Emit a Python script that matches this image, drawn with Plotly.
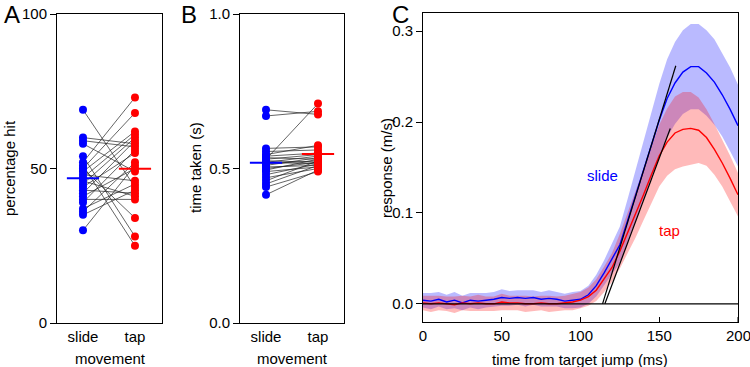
import plotly.graph_objects as go

W, H = 750, 367
FONT = "Liberation Sans, Arial, Helvetica, sans-serif"

# ---------------- Panel A: percentage hit ----------------
movement_labels = ["slide", "tap"]
hit_slide = [69, 60, 59, 58, 54, 52, 51, 50, 50, 49, 48, 47, 46, 45, 44, 43, 42, 41, 40, 39, 37, 36, 35, 30]
hit_tap   = [44, 58, 57, 49, 28, 73, 25, 68, 34, 62, 46, 61, 41, 60, 55, 42, 59, 50, 40, 56, 45, 52, 43, 51]

# ---------------- Panel B: time taken ----------------
time_slide = [0.69, 0.67, 0.565, 0.555, 0.545, 0.54, 0.535, 0.53, 0.525, 0.52, 0.52, 0.515,
              0.51, 0.505, 0.50, 0.495, 0.49, 0.48, 0.47, 0.46, 0.45, 0.44, 0.415, 0.53]
time_tap   = [0.675, 0.685, 0.57, 0.56, 0.575, 0.55, 0.53, 0.545, 0.52, 0.54, 0.515, 0.525,
              0.535, 0.51, 0.52, 0.53, 0.505, 0.515, 0.50, 0.525, 0.51, 0.49, 0.495, 0.71]

# ---------------- Panel C: response time course ----------------
t_ms = [0, 5, 10, 15, 20, 25, 30, 35, 40, 45, 50, 55, 60, 65, 70, 75, 80, 85, 90, 95, 100,
        105, 110, 115, 120, 125, 130, 135, 140, 145, 150, 155, 160, 165, 170, 175, 180, 185, 190, 195, 200]
resp_slide = [0.004, 0.003, 0.005, 0.002, 0.004, 0.001, 0.004, 0.003, 0.004, 0.005, 0.007, 0.006,
              0.007, 0.006, 0.007, 0.005, 0.006, 0.005, 0.003, 0.004, 0.005,
              0.010, 0.020, 0.034, 0.050, 0.065, 0.092, 0.120, 0.148, 0.175, 0.202, 0.226,
              0.243, 0.255, 0.261, 0.261, 0.254, 0.244, 0.230, 0.214, 0.196]
resp_tap = [0.001, 0.000, 0.001, 0.000, -0.001, 0.001, 0.000, 0.001, 0.000, 0.000, 0.002, 0.001,
            0.001, 0.000, 0.000, 0.001, 0.000, 0.000, 0.001, 0.002, 0.004,
            0.008, 0.015, 0.027, 0.040, 0.058, 0.078, 0.098, 0.120, 0.142, 0.163, 0.178,
            0.188, 0.192, 0.193, 0.191, 0.183, 0.170, 0.155, 0.138, 0.120]
sd_slide = [0.008, 0.009, 0.008, 0.008, 0.009, 0.008, 0.008, 0.009, 0.008, 0.008, 0.009, 0.008,
            0.008, 0.009, 0.008, 0.008, 0.009, 0.008, 0.008, 0.009, 0.009,
            0.010, 0.012, 0.014, 0.017, 0.020, 0.024, 0.028, 0.032, 0.036, 0.040, 0.043,
            0.045, 0.046, 0.047, 0.047, 0.047, 0.047, 0.046, 0.046, 0.045]
sd_tap = [0.008, 0.009, 0.008, 0.008, 0.009, 0.008, 0.008, 0.009, 0.008, 0.008, 0.009, 0.008,
          0.008, 0.009, 0.008, 0.008, 0.009, 0.008, 0.008, 0.009, 0.009,
          0.010, 0.012, 0.014, 0.016, 0.019, 0.022, 0.025, 0.028, 0.031, 0.034, 0.037,
          0.040, 0.041, 0.040, 0.036, 0.031, 0.028, 0.026, 0.025, 0.024]
# linear fits: onset time, end time, end value
fit_onset = [114.0, 115.5]
fit_end_t = [160.5, 157.0]
fit_end_v = [0.262, 0.193]
baseline_t = [0, 200]
baseline_v = [0.0, 0.0]
time_ticks = [0, 50, 100, 150, 200]

BLUE = "#0000ff"
RED = "#ff0000"

fig = go.Figure()

def paired_panel(xa, ya, s_vals, t_vals, half=0.31):
    lx, ly = [], []
    for a, b in zip(s_vals, t_vals):
        lx += [1, 2, None]
        ly += [a, b, None]
    fig.add_trace(go.Scatter(x=lx, y=ly, mode="lines", line=dict(color="#222", width=0.7),
                             xaxis=xa, yaxis=ya, hoverinfo="skip"))
    fig.add_trace(go.Scatter(x=[1] * len(s_vals), y=s_vals, mode="markers",
                             marker=dict(color=BLUE, size=8), xaxis=xa, yaxis=ya))
    fig.add_trace(go.Scatter(x=[2] * len(t_vals), y=t_vals, mode="markers",
                             marker=dict(color=RED, size=8), xaxis=xa, yaxis=ya))
    ms = sum(s_vals) / len(s_vals)
    mt = sum(t_vals) / len(t_vals)
    fig.add_trace(go.Scatter(x=[1 - half, 1 + half], y=[ms, ms], mode="lines",
                             line=dict(color=BLUE, width=2), xaxis=xa, yaxis=ya))
    fig.add_trace(go.Scatter(x=[2 - half, 2 + half], y=[mt, mt], mode="lines",
                             line=dict(color=RED, width=2), xaxis=xa, yaxis=ya))

paired_panel("x", "y", hit_slide, hit_tap)
paired_panel("x2", "y2", time_slide, time_tap)

# Panel C bands
for mean, sd, col in [(resp_slide, sd_slide, "rgba(0,0,255,0.27)"), (resp_tap, sd_tap, "rgba(255,0,0,0.27)")]:
    up = [m + s for m, s in zip(mean, sd)]
    lo = [m - s for m, s in zip(mean, sd)]
    fig.add_trace(go.Scatter(x=t_ms, y=up, mode="lines", line=dict(width=0, color=col),
                             xaxis="x3", yaxis="y3", hoverinfo="skip"))
    fig.add_trace(go.Scatter(x=t_ms, y=lo, mode="lines", line=dict(width=0, color=col),
                             fill="tonexty", fillcolor=col, xaxis="x3", yaxis="y3", hoverinfo="skip"))

fig.add_trace(go.Scatter(x=t_ms, y=resp_slide, mode="lines", line=dict(color=BLUE, width=1.4),
                         xaxis="x3", yaxis="y3"))
fig.add_trace(go.Scatter(x=t_ms, y=resp_tap, mode="lines", line=dict(color=RED, width=1.4),
                         xaxis="x3", yaxis="y3"))
fig.add_trace(go.Scatter(x=baseline_t, y=baseline_v, mode="lines", line=dict(color="black", width=1.2),
                         xaxis="x3", yaxis="y3"))
for t0, t1, v1 in zip(fit_onset, fit_end_t, fit_end_v):
    fig.add_trace(go.Scatter(x=[t0, t1], y=[0, v1], mode="lines", line=dict(color="black", width=1.2),
                             xaxis="x3", yaxis="y3"))

tickfont = dict(family=FONT, size=15, color="black")

def xax(domain, rng, **kw):
    d = dict(domain=domain, range=rng, showline=True, linecolor="black", linewidth=1, mirror=True,
             showgrid=False, zeroline=False, tickfont=tickfont, fixedrange=True, automargin=False,
             ticklabeloverflow="allow")
    d.update(kw)
    return d

def yax(domain, rng, tickvals, ticktext, anchor, **kw):
    d = dict(domain=domain, range=rng, showline=True, linecolor="black", linewidth=1, mirror=True,
             showgrid=False, zeroline=False, tickfont=tickfont, ticks="outside", ticklen=6,
             tickcolor="black", tickvals=tickvals, ticktext=ticktext, anchor=anchor, fixedrange=True,
             automargin=False)
    d.update(kw)
    return d

def yright(rng, tickvals, over, anchor):
    return dict(overlaying=over, side="right", anchor=anchor, range=rng, tickvals=tickvals,
                ticks="inside", ticklen=6, tickcolor="#555", showticklabels=False, showline=False,
                showgrid=False, zeroline=False, fixedrange=True, automargin=False)

ydom = [1 - 323 / H, 1 - 14 / H]
ydomC = [1 - 322 / H, 1 - 13 / H]

fig.update_layout(
    template="none",
    width=W, height=H, margin=dict(l=0, r=0, t=0, b=0, pad=0, autoexpand=False),
    paper_bgcolor="white", plot_bgcolor="white", showlegend=False,
    font=dict(family=FONT, size=15, color="black"),
    xaxis=xax([57 / W, 162 / W], [0.5, 2.52], tickvals=[1, 2], ticktext=movement_labels, ticks="", anchor="y"),
    yaxis=yax(ydom, [0, 100], [0, 50, 100], ["0", "50", "100"], "x"),
    yaxis4=yright([0, 100], [0, 50, 100], "y", "x"),
    xaxis2=xax([240 / W, 344 / W], [0.5, 2.5], tickvals=[1, 2], ticktext=movement_labels, ticks="", anchor="y2"),
    yaxis2=yax(ydom, [0, 1], [0, 0.5, 1.0], ["0.0", "0.5", "1.0"], "x2"),
    yaxis5=yright([0, 1], [0, 0.5, 1.0], "y2", "x2"),
    xaxis3=xax([423 / W, 738 / W], [0, 200], tickvals=time_ticks[:-1], ticks="inside", ticklen=5,
               tickcolor="black", anchor="y3"),
    yaxis3=yax(ydomC, [-0.02, 0.32], [0, 0.1, 0.2, 0.3], ["0.0", "0.1", "0.2", "0.3"], "x3"),
    yaxis6=yright([-0.02, 0.32], [0, 0.1, 0.2, 0.3], "y3", "x3"),
)

# last x tick of panel C (plotly drops labels overflowing the page; the reference shows it clipped)
fig.add_annotation(text=str(time_ticks[-1]), x=time_ticks[-1], y=1 - 335 / H, xref="x3", yref="paper",
                   showarrow=False, xanchor="center", yanchor="middle",
                   font=dict(family=FONT, size=15, color="black"))
fig.add_shape(type="line", xref="x3", yref="y3", x0=time_ticks[-1], x1=time_ticks[-1],
              y0=-0.02, y1=-0.0145, line=dict(color="black", width=1))

def ann(text, px, py, size=15, color="black", angle=0, xanchor="center"):
    fig.add_annotation(text=text, x=px / W, y=1 - py / H, xref="paper", yref="paper",
                       showarrow=False, textangle=angle, xanchor=xanchor, yanchor="middle",
                       font=dict(family=FONT, size=size, color=color))

ann("A", 12, 14, size=24)
ann("B", 189, 14, size=24)
ann("C", 401, 14, size=24)
ann("percentage hit", 9, 168, angle=-90)
ann("time taken (s)", 195, 168, angle=-90)
ann("response (m/s)", 386, 168, angle=-90)
ann("movement", 110, 358)
ann("movement", 292, 358)
ann("time from target jump (ms)", 580, 359)

# series labels in panel C (data coords)
fig.add_annotation(text="slide", x=114, y=0.141, xref="x3", yref="y3", showarrow=False,
                   font=dict(family=FONT, size=15, color=BLUE))
fig.add_annotation(text="tap", x=156.8, y=0.081, xref="x3", yref="y3", showarrow=False,
                   font=dict(family=FONT, size=15, color=RED))

fig.write_html("out.html")
